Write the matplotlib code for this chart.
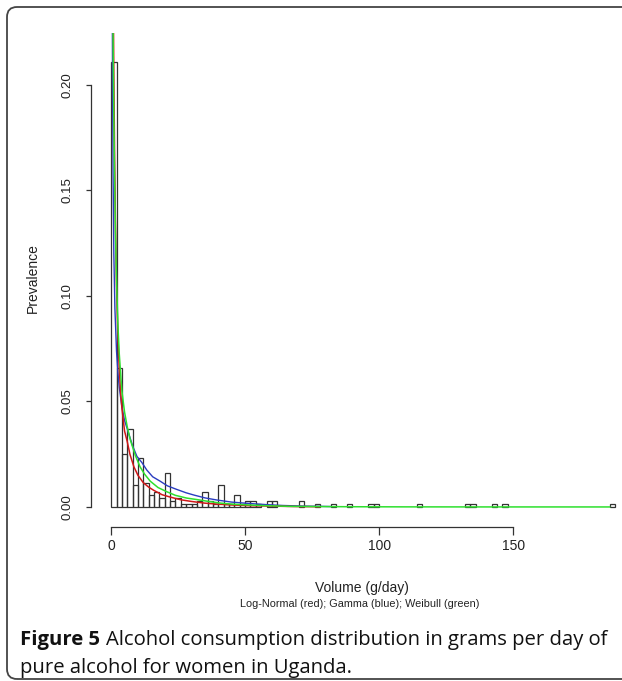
import matplotlib
matplotlib.use('Agg')
import matplotlib.pyplot as plt
from matplotlib.patches import FancyBboxPatch

plt.rcParams['font.family'] = ['Liberation Sans', 'DejaVu Sans']

# histogram bins (left edge, g/day) and prevalence per bin, width 2
bin_left = [0, 2, 4, 6, 8, 10, 12, 14, 16, 18, 20, 22, 24, 26, 28, 30, 32, 34,
            36, 38, 40, 42, 44, 46, 48, 50, 52, 54, 58, 60, 70, 76, 82, 88,
            96, 98, 114, 132, 134, 142, 146, 186]
prevalence = [0.211, 0.066, 0.025, 0.037, 0.0105, 0.023, 0.0112, 0.0056,
              0.007, 0.0042, 0.016, 0.0028, 0.0042, 0.0014, 0.0014, 0.0014,
              0.0028, 0.007, 0.0028, 0.0014, 0.0105, 0.0014, 0.0014, 0.0056,
              0.0014, 0.0028, 0.0028, 0.0014, 0.0028, 0.0028, 0.0028, 0.0014,
              0.0014, 0.0014, 0.0014, 0.0014, 0.0014, 0.0014, 0.0014, 0.0014,
              0.0014, 0.0014]
bin_width = 2

# fitted curves
lnorm_x = [0.6, 0.8, 1.0, 1.3, 1.6, 2.0, 2.5, 3.0, 3.5, 4.0, 5.0, 6.0, 7.0, 8.5,
           10, 12, 14, 16, 19, 22, 26, 30, 35, 40, 46, 52, 60, 68, 78]
lnorm_y = [0.30, 0.24, 0.205, 0.165, 0.135, 0.105, 0.082, 0.066, 0.055, 0.047,
           0.036, 0.031, 0.025, 0.019, 0.0150, 0.0115, 0.0094, 0.0078, 0.0058,
           0.0047, 0.0034, 0.0026, 0.0018, 0.0013, 0.0009, 0.0006, 0.0004,
           0.0002, 0.0001]

gamma_x = [0.3, 0.5, 0.7, 1.0, 1.4, 2.0, 2.5, 3.0, 4.0, 5.0, 6.5, 8, 9.6, 11.5,
           13.3, 15.5, 18.3, 21, 24.5, 28, 31, 35, 39.4, 45, 52, 58, 64, 72, 82]
gamma_y = [0.30, 0.21, 0.16, 0.12, 0.094, 0.074, 0.064, 0.057, 0.0475, 0.041,
           0.035, 0.029, 0.024, 0.021, 0.0175, 0.0143, 0.0122, 0.0100, 0.0083,
           0.0067, 0.0056, 0.0043, 0.0033, 0.0023, 0.0016, 0.0011, 0.0007,
           0.0004, 0.0002]

weib_x = [0.4, 0.6, 0.8, 1.0, 1.3, 1.6, 2.0, 2.5, 3.0, 4.0, 5.0, 6.0, 7.1, 9,
          10.8, 12.5, 14.6, 17.5, 20.8, 24, 28.2, 32, 37, 41, 45.6, 52, 58, 66,
          75, 90, 110, 140, 186]
weib_y = [0.30, 0.245, 0.21, 0.185, 0.155, 0.13, 0.108, 0.087, 0.073, 0.055,
          0.045, 0.038, 0.032, 0.0245, 0.019, 0.0155, 0.0122, 0.0092, 0.0072,
          0.0055, 0.0042, 0.0035, 0.0025, 0.0018, 0.0013, 0.0009, 0.0006,
          0.0003, 0.0002, 0.0001, 0.00004, 0.00001, 0.0]

x_ticks = [0, 50, 100, 150]
y_ticks = [0.00, 0.05, 0.10, 0.15, 0.20]

W, H = 622, 681
fig = plt.figure(figsize=(W / 100, H / 100), dpi=100)

# rounded frame around the whole figure
frame = FancyBboxPatch((0.07, 0.02), 6.5, 6.72,
                       boxstyle='round,pad=0,rounding_size=0.1',
                       transform=fig.dpi_scale_trans, fill=False,
                       edgecolor='#444444', linewidth=1.3)
fig.patches.append(frame)

# plot region in pixels: left 91, right 635, top 33, bottom 527
ax = fig.add_axes([91 / W, 1 - 527 / H, (635 - 91) / W, (527 - 33) / H])
ax.set_facecolor('none')
ax.bar(bin_left, prevalence, width=bin_width, align='edge', facecolor='none',
       edgecolor='#333333', linewidth=0.9)
ax.plot(gamma_x, gamma_y, color='#2a3cc0', lw=1.0)
ax.plot(lnorm_x, lnorm_y, color='#d01818', lw=1.1)
ax.plot(weib_x, weib_y, color='#2ee02e', lw=1.1)

ax.set_xlim(-7.52, 195.5)
ax.set_ylim(-0.0095, 0.2246)

for s in ['top', 'right']:
    ax.spines[s].set_visible(False)
ax.spines['left'].set_bounds(0, 0.20)
ax.spines['bottom'].set_bounds(0, 150)
for s in ['left', 'bottom']:
    ax.spines[s].set_color('#333333')
    ax.spines[s].set_linewidth(0.9)

ax.set_xticks(x_ticks)
ax.set_xticklabels([str(v) for v in x_ticks], fontsize=10, color='#222222')
ax.set_yticks(y_ticks)
ax.set_yticklabels(['%.2f' % v for v in y_ticks], fontsize=9.5,
                   color='#222222', rotation=90, va='center')
ax.tick_params(axis='x', length=6, width=0.9, color='#333333', pad=3)
ax.tick_params(axis='y', length=3.5, width=0.9, color='#333333', pad=9)

fig.text(33 / W, 1 - 278 / H, 'Prevalence', rotation=90, fontsize=10,
         ha='center', va='center', color='#222222')
fig.text(362 / W, 1 - 588 / H, 'Volume (g/day)', fontsize=10,
         ha='center', va='center', color='#222222')
fig.text(360 / W, 1 - 604 / H, 'Log-Normal (red); Gamma (blue); Weibull (green)',
         fontsize=7.8, ha='center', va='center', color='#222222')

# caption, bold lead then regular text
cap_font = ['Open Sans', 'DejaVu Sans']
r = fig.canvas.get_renderer()
t1 = fig.text(20 / W, 1 - 640 / H, 'Figure 5', fontsize=14.6, fontweight='bold',
              family=cap_font, va='center', ha='left', color='#111111')
bb = t1.get_window_extent(renderer=r)
fig.text((bb.x1 + 6) / W, 1 - 640 / H,
         'Alcohol consumption distribution in grams per day of',
         fontsize=14.6, family=cap_font, va='center', ha='left', color='#111111')
fig.text(20 / W, 1 - 668 / H, 'pure alcohol for women in Uganda.',
         fontsize=14.6, family=cap_font, va='center', ha='left', color='#111111')

fig.savefig('out.png', dpi=100)
